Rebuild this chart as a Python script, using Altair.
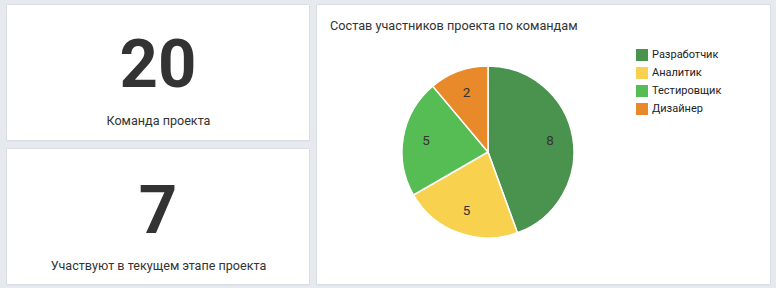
import altair as alt
import pandas as pd

# ---- data ----
teams = ["Разработчик", "Аналитик", "Тестировщик", "Дизайнер"]
slice_sizes = [8, 4, 4, 2]          # slice angles as drawn
slice_labels = ["8", "5", "5", "2"]  # numbers printed on slices
team_colors = ["#4a934f", "#f8d24f", "#56bd55", "#e8892a"]

kpi_values = ["20", "7"]
kpi_captions = ["Команда проекта", "Участвуют в текущем этапе проекта"]
pie_title = "Состав участников проекта по командам"

FONT = "Roboto"
BG = "#e6e9ee"

pie_df = pd.DataFrame({
    "team": teams,
    "size": slice_sizes,
    "label": slice_labels,
    "idx": list(range(len(teams))),
})

one = alt.Data(values=[{"a": 1}])


def card(x1, y1, x2, y2):
    shadow = alt.Chart(one).mark_rect(color="#d9dee6", cornerRadius=2).encode(
        x=alt.value(x1 - 1), x2=alt.value(x2 + 1),
        y=alt.value(y1 - 1), y2=alt.value(y2 + 1.5))
    body = alt.Chart(one).mark_rect(color="white").encode(
        x=alt.value(x1), x2=alt.value(x2), y=alt.value(y1), y2=alt.value(y2))
    return [shadow, body]


layers = []
layers += card(7, 5, 309, 140)
layers += card(7, 149, 309, 284)
layers += card(317, 5, 770, 284)


def kpi(i, y_num, y_cap):
    d = alt.Data(values=[{"v": kpi_values[i], "c": kpi_captions[i]}])
    num = alt.Chart(d).mark_text(font=FONT, fontSize=67, fontWeight="bold",
                                 color="#333333", align="center",
                                 baseline="alphabetic").encode(
        text="v:N", x=alt.value(158), y=alt.value(y_num))
    cap = alt.Chart(d).mark_text(font=FONT, fontSize=12.6, color="#333333",
                                 align="center", baseline="alphabetic").encode(
        text="c:N", x=alt.value(158.5), y=alt.value(y_cap))
    return [num, cap]


layers += kpi(0, 87, 125)
layers += kpi(1, 233, 270)

title = alt.Chart(alt.Data(values=[{"t": pie_title}])).mark_text(
    font=FONT, fontSize=12.7, color="#333333", align="left",
    baseline="alphabetic").encode(text="t:N", x=alt.value(330), y=alt.value(30))
layers.append(title)

base = alt.Chart(pie_df)
arcs = base.mark_arc(outerRadius=86, stroke="white", strokeWidth=1.5).encode(
    theta=alt.Theta("size:Q", stack=True),
    color=alt.Color("team:N", sort=teams,
                    scale=alt.Scale(domain=teams, range=team_colors),
                    legend=alt.Legend(title=None, orient="none",
                                      legendX=636, legendY=49,
                                      symbolType="square", symbolSize=144,
                                      symbolStrokeWidth=0, symbolOpacity=1,
                                      labelFont=FONT, labelFontSize=11,
                                      labelColor="#222222", rowPadding=6,
                                      labelOffset=4)),
    order=alt.Order("idx:Q"),
    x=alt.value(488), y=alt.value(152),
)
labels = base.mark_text(radius=63, font=FONT, fontSize=13.5, color="#333333",
                        align="center", baseline="middle").encode(
    theta=alt.Theta("size:Q", stack=True),
    text="label:N",
    order=alt.Order("idx:Q"),
    x=alt.value(488), y=alt.value(152),
)
layers += [arcs, labels]

chart = alt.layer(*layers).properties(
    width=776, height=288,
    autosize=alt.AutoSizeParams(type="none"),
    padding=0,
    background=BG,
).configure_view(stroke=None)

chart.save("out.html", embed_options={"renderer": "svg", "actions": False})
